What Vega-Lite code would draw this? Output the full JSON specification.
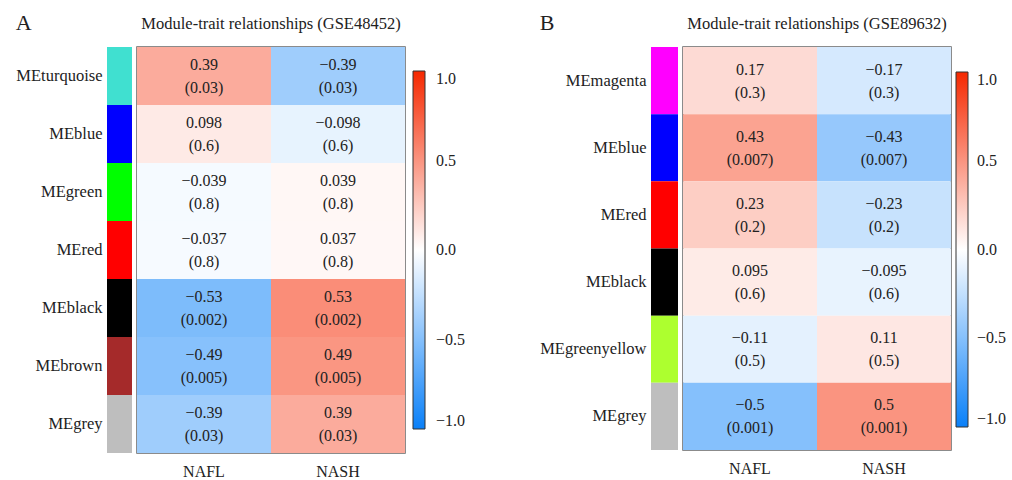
{
  "$schema": "https://vega.github.io/schema/vega-lite/v6.json",
  "background": "white",
  "padding": {"left": 15, "top": 12, "right": 2, "bottom": 2},
  "config": {
    "font": "Liberation Serif",
    "title": {"font": "Liberation Serif", "fontWeight": "normal", "color": "#222"},
    "axis": {"labelFont": "Liberation Serif", "labelColor": "#222"},
    "legend": {"labelFont": "Liberation Serif", "labelColor": "#222"},
    "text": {"font": "Liberation Serif"}
  },
  "datasets": {
    "A": [
      {"module": "MEturquoise", "trait": "NAFL", "r": 0.39, "p": 0.03},
      {"module": "MEturquoise", "trait": "NASH", "r": -0.39, "p": 0.03},
      {"module": "MEblue", "trait": "NAFL", "r": 0.098, "p": 0.6},
      {"module": "MEblue", "trait": "NASH", "r": -0.098, "p": 0.6},
      {"module": "MEgreen", "trait": "NAFL", "r": -0.039, "p": 0.8},
      {"module": "MEgreen", "trait": "NASH", "r": 0.039, "p": 0.8},
      {"module": "MEred", "trait": "NAFL", "r": -0.037, "p": 0.8},
      {"module": "MEred", "trait": "NASH", "r": 0.037, "p": 0.8},
      {"module": "MEblack", "trait": "NAFL", "r": -0.53, "p": 0.002},
      {"module": "MEblack", "trait": "NASH", "r": 0.53, "p": 0.002},
      {"module": "MEbrown", "trait": "NAFL", "r": -0.49, "p": 0.005},
      {"module": "MEbrown", "trait": "NASH", "r": 0.49, "p": 0.005},
      {"module": "MEgrey", "trait": "NAFL", "r": -0.39, "p": 0.03},
      {"module": "MEgrey", "trait": "NASH", "r": 0.39, "p": 0.03}
    ],
    "B": [
      {"module": "MEmagenta", "trait": "NAFL", "r": 0.17, "p": 0.3},
      {"module": "MEmagenta", "trait": "NASH", "r": -0.17, "p": 0.3},
      {"module": "MEblue", "trait": "NAFL", "r": 0.43, "p": 0.007},
      {"module": "MEblue", "trait": "NASH", "r": -0.43, "p": 0.007},
      {"module": "MEred", "trait": "NAFL", "r": 0.23, "p": 0.2},
      {"module": "MEred", "trait": "NASH", "r": -0.23, "p": 0.2},
      {"module": "MEblack", "trait": "NAFL", "r": 0.095, "p": 0.6},
      {"module": "MEblack", "trait": "NASH", "r": -0.095, "p": 0.6},
      {"module": "MEgreenyellow", "trait": "NAFL", "r": -0.11, "p": 0.5},
      {"module": "MEgreenyellow", "trait": "NASH", "r": 0.11, "p": 0.5},
      {"module": "MEgrey", "trait": "NAFL", "r": -0.5, "p": 0.001},
      {"module": "MEgrey", "trait": "NASH", "r": 0.5, "p": 0.001}
    ]
  },
  "hconcat": [
    {
      "spacing": 4,
      "resolve": {"scale": {"color": "independent"}},
      "hconcat": [
        {
          "title": {"text": "A", "anchor": "start", "frame": "bounds", "fontSize": 22, "offset": 12, "font": "Liberation Serif", "fontWeight": "normal", "color": "#222"},
          "data": {"name": "A"},
          "transform": [{"filter": "datum.trait == 'NAFL'"}],
          "width": 25,
          "height": 406,
          "view": {"stroke": null},
          "mark": {"type": "rect"},
          "encoding": {
            "y": {
              "field": "module", "type": "nominal", "title": null,
              "sort": ["MEturquoise", "MEblue", "MEgreen", "MEred", "MEblack", "MEbrown", "MEgrey"],
              "scale": {"paddingInner": 0, "paddingOuter": 0},
              "axis": {"ticks": false, "domain": false, "labelPadding": 5, "labelFontSize": 16.5, "labelFont": "Liberation Serif", "labelColor": "#222"}
            },
            "color": {
              "field": "module", "type": "nominal", "legend": null,
              "scale": {
                "domain": ["MEturquoise", "MEblue", "MEgreen", "MEred", "MEblack", "MEbrown", "MEgrey"],
                "range": ["#40e0d0", "#0000ff", "#00ff00", "#ff0000", "#000000", "#a52a2a", "#bebebe"]
              }
            }
          }
        },
        {
          "title": {"text": "Module-trait relationships (GSE48452)", "fontSize": 16.5, "offset": 15, "font": "Liberation Serif", "fontWeight": "normal", "color": "#222"},
          "data": {"name": "A"},
          "width": 268,
          "height": 406,
          "view": {"stroke": "#666", "strokeWidth": 1.5},
          "encoding": {
            "x": {
              "field": "trait", "type": "nominal", "title": null,
              "scale": {"paddingInner": 0, "paddingOuter": 0},
              "axis": {"orient": "bottom", "labelAngle": 0, "ticks": false, "domain": false, "labelPadding": 10, "labelFontSize": 16, "labelFont": "Liberation Serif", "labelColor": "#222"}
            },
            "y": {
              "field": "module", "type": "nominal", "axis": null,
              "sort": ["MEturquoise", "MEblue", "MEgreen", "MEred", "MEblack", "MEbrown", "MEgrey"],
              "scale": {"paddingInner": 0, "paddingOuter": 0}
            }
          },
          "layer": [
            {
              "mark": {"type": "rect"},
              "encoding": {
                "color": {
                  "field": "r", "type": "quantitative",
                  "scale": {"domain": [-1, 0, 1], "range": ["#0a80f8", "#ffffff", "#f52800"], "interpolate": "rgb"},
                  "legend": {
                    "title": null, "orient": "none", "legendX": 276, "legendY": 24, "padding": 0,
                    "direction": "vertical", "gradientLength": 358, "gradientThickness": 12,
                    "gradientStrokeColor": "#333", "gradientStrokeWidth": 1,
                    "values": [-1, -0.5, 0, 0.5, 1], "format": ".1f",
                    "labelFontSize": 16, "labelOffset": 11, "labelFont": "Liberation Serif", "labelColor": "#222"
                  }
                }
              }
            },
            {
              "mark": {"type": "text", "fontSize": 16, "color": "#222", "lineHeight": 23, "dy": -11, "font": "Liberation Serif",
                       "text": {"expr": "[format(datum.r, '.2~r'), '(' + datum.p + ')']"}},
              "encoding": {}
            }
          ]
        }
      ]
    },
    {
      "spacing": 4,
      "resolve": {"scale": {"color": "independent"}},
      "hconcat": [
        {
          "title": {"text": "B", "anchor": "start", "frame": "bounds", "fontSize": 22, "offset": 12, "font": "Liberation Serif", "fontWeight": "normal", "color": "#222"},
          "data": {"name": "B"},
          "transform": [{"filter": "datum.trait == 'NAFL'"}],
          "width": 27,
          "height": 403,
          "view": {"stroke": null},
          "mark": {"type": "rect"},
          "encoding": {
            "y": {
              "field": "module", "type": "nominal", "title": null,
              "sort": ["MEmagenta", "MEblue", "MEred", "MEblack", "MEgreenyellow", "MEgrey"],
              "scale": {"paddingInner": 0, "paddingOuter": 0},
              "axis": {"ticks": false, "domain": false, "labelPadding": 5, "labelFontSize": 16.5, "labelFont": "Liberation Serif", "labelColor": "#222"}
            },
            "color": {
              "field": "module", "type": "nominal", "legend": null,
              "scale": {
                "domain": ["MEmagenta", "MEblue", "MEred", "MEblack", "MEgreenyellow", "MEgrey"],
                "range": ["#ff00ff", "#0000ff", "#ff0000", "#000000", "#adff2f", "#bebebe"]
              }
            }
          }
        },
        {
          "title": {"text": "Module-trait relationships (GSE89632)", "fontSize": 16.5, "offset": 15, "font": "Liberation Serif", "fontWeight": "normal", "color": "#222"},
          "data": {"name": "B"},
          "width": 268,
          "height": 403,
          "view": {"stroke": "#666", "strokeWidth": 1.5},
          "encoding": {
            "x": {
              "field": "trait", "type": "nominal", "title": null,
              "scale": {"paddingInner": 0, "paddingOuter": 0},
              "axis": {"orient": "bottom", "labelAngle": 0, "ticks": false, "domain": false, "labelPadding": 10, "labelFontSize": 16, "labelFont": "Liberation Serif", "labelColor": "#222"}
            },
            "y": {
              "field": "module", "type": "nominal", "axis": null,
              "sort": ["MEmagenta", "MEblue", "MEred", "MEblack", "MEgreenyellow", "MEgrey"],
              "scale": {"paddingInner": 0, "paddingOuter": 0}
            }
          },
          "layer": [
            {
              "mark": {"type": "rect"},
              "encoding": {
                "color": {
                  "field": "r", "type": "quantitative",
                  "scale": {"domain": [-1, 0, 1], "range": ["#0a80f8", "#ffffff", "#f52800"], "interpolate": "rgb"},
                  "legend": {
                    "title": null, "orient": "none", "legendX": 273, "legendY": 25, "padding": 0,
                    "direction": "vertical", "gradientLength": 355, "gradientThickness": 12,
                    "gradientStrokeColor": "#333", "gradientStrokeWidth": 1,
                    "values": [-1, -0.5, 0, 0.5, 1], "format": ".1f",
                    "labelFontSize": 16, "labelOffset": 9, "labelFont": "Liberation Serif", "labelColor": "#222"
                  }
                }
              }
            },
            {
              "mark": {"type": "text", "fontSize": 16, "color": "#222", "lineHeight": 23, "dy": -11, "font": "Liberation Serif",
                       "text": {"expr": "[format(datum.r, '.2~r'), '(' + datum.p + ')']"}},
              "encoding": {}
            }
          ]
        }
      ]
    }
  ],
  "spacing": 72,
  "resolve": {"scale": {"color": "independent"}}
}
